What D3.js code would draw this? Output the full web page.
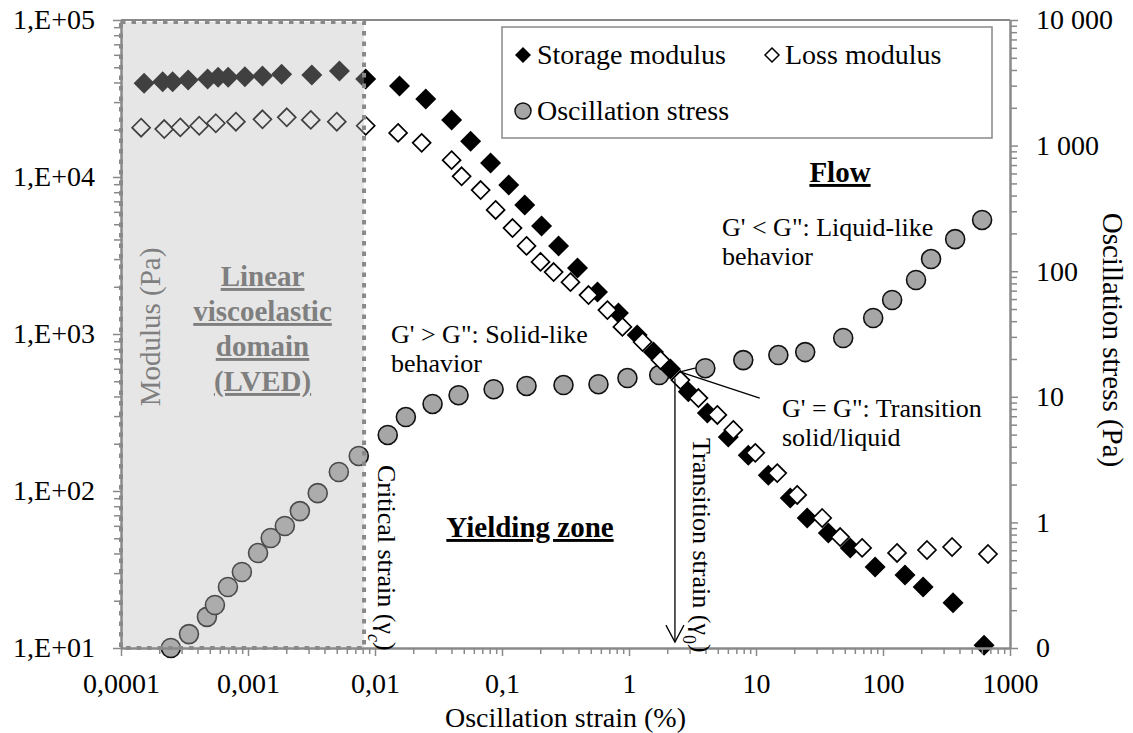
<!DOCTYPE html>
<html>
<head>
<meta charset="utf-8">
<script src="https://cdn.jsdelivr.net/npm/d3@7"></script>
<style>
  body { margin: 0; background: #fff; }
  text { font-family: "Liberation Serif", "Times New Roman", serif; }
</style>
</head>
<body>
<svg width="1133" height="733"></svg>
<script>
// strain (%) / modulus (Pa)
var storageStrain = [1.52e-4, 2.13e-4, 2.55e-4, 3.38e-4, 4.81e-4, 5.82e-4, 6.98e-4, 9.45e-4, 1.30e-3, 1.84e-3,
  3.18e-3, 5.25e-3, 8.45e-3, 0.0156, 0.0251, 0.0401, 0.0566, 0.0813, 0.113, 0.151, 0.205, 0.279, 0.393,
  0.565, 0.826, 1.16, 1.56, 2.12, 2.93, 4.14, 6.05, 8.69, 12.5, 18.6, 25.3, 37.1, 55.2, 86.7, 149, 207, 356, 625];
var storageModulus = [39500, 40500, 40500, 41500, 42100, 43200, 43200, 43500, 44000, 45100,
  44700, 47300, 42100, 38000, 31400, 23100, 16900, 12300, 8890, 6640, 4880, 3640, 2630,
  1850, 1360, 986, 767, 598, 428, 314, 221, 169, 126, 90.2, 67.3, 54.0, 43.4, 32.8, 29.2, 24.5, 19.4, 10.4];

var lossStrain = [1.44e-4, 2.19e-4, 2.93e-4, 4.13e-4, 5.58e-4, 8.03e-4, 1.30e-3, 2.02e-3, 3.12e-3, 5.00e-3,
  8.45e-3, 0.0152, 0.0233, 0.0401, 0.0481, 0.0679, 0.0891, 0.121, 0.156, 0.201, 0.255, 0.346, 0.480,
  0.676, 0.887, 1.28, 1.77, 2.54, 3.52, 4.96, 6.63, 9.87, 14.7, 21.1, 33.2, 46.0, 68.5, 129, 222, 350, 671];
var lossModulus = [20600, 20200, 20700, 21200, 22000, 22500, 23300, 24000, 23100, 22500,
  21200, 19100, 16500, 12800, 10100, 8260, 6170, 4730, 3640, 2880, 2480, 2140, 1770,
  1420, 1110, 889, 682, 509, 391, 305, 245, 175, 130, 94.4, 67.3, 50.9, 43.4, 40.3, 42.1, 44.0, 39.7];

var stressStrain = [2.47e-4, 3.43e-4, 4.75e-4, 5.49e-4, 6.95e-4, 8.95e-4, 1.20e-3, 1.51e-3, 1.95e-3, 2.56e-3,
  3.54e-3, 5.19e-3, 7.45e-3, 0.0126, 0.0175, 0.0284, 0.0455, 0.0859, 0.156, 0.305, 0.575, 0.972,
  1.73, 3.99, 7.94, 15.0, 24.4, 48.6, 83.7, 118, 182, 239, 370, 603];
var stressValues = [0.1, 0.129, 0.177, 0.220, 0.306, 0.403, 0.570, 0.751, 0.936, 1.23,
  1.71, 2.52, 3.38, 4.97, 6.90, 8.77, 10.3, 11.5, 12.2, 12.4, 12.6, 14.1,
  14.9, 16.9, 19.6, 21.5, 22.7, 29.4, 42.4, 59.0, 85.1, 125, 180, 256];

var xTicks = [0.0001, 0.001, 0.01, 0.1, 1, 10, 100, 1000];
var xTickLabels = ['0,0001', '0,001', '0,01', '0,1', '1', '10', '100', '1000'];
var leftTicks = [10, 100, 1000, 10000, 100000];
var leftTickLabels = ['1,E+01', '1,E+02', '1,E+03', '1,E+04', '1,E+05'];
var rightTicks = [0.1, 1, 10, 100, 1000, 10000];
var rightTickLabels = ['0', '1', '10', '100', '1 000', '10 000'];

var lvedLimit = 0.0082;       // critical strain
var transitionStrain = 2.3;   // G' = G''

var svg = d3.select('svg');
var plot = {l: 121, t: 20, r: 1010, b: 648};
var gray = '#898989';

var xScale = d3.scaleLog().domain([1e-4, 1e3]).range([plot.l, plot.r]);
var yLeft = d3.scaleLog().domain([10, 1e5]).range([plot.b, plot.t]);
var yRight = d3.scaleLog().domain([0.1, 1e4]).range([plot.b, plot.t]);

function minorTicks(majors) {
  var out = [];
  for (var i = 0; i < majors.length - 1; i++) {
    for (var k = 2; k < 10; k++) out.push(majors[i] * k);
  }
  return out;
}

function diamond(r) {
  return 'M0,' + (-r) + 'L' + r + ',0L0,' + r + 'L' + (-r) + ',0Z';
}

// top frame line
svg.append('line')
  .attr('x1', plot.l).attr('x2', plot.r)
  .attr('y1', plot.t).attr('y2', plot.t)
  .attr('stroke', gray).attr('stroke-width', 2);

// markers
var stress = stressStrain.map(function(s, i) { return {x: s, y: stressValues[i]}; });
var storage = storageStrain.map(function(s, i) { return {x: s, y: storageModulus[i]}; });
var loss = lossStrain.map(function(s, i) { return {x: s, y: lossModulus[i]}; });

svg.append('g').selectAll('circle')
  .data(stress).enter().append('circle')
  .attr('cx', function(d) { return xScale(d.x); })
  .attr('cy', function(d) { return yRight(d.y); })
  .attr('r', 9.5)
  .attr('fill', '#a6a6a6')
  .attr('stroke', '#111')
  .attr('stroke-width', 1.6);

svg.append('g').selectAll('path')
  .data(storage).enter().append('path')
  .attr('d', diamond(10.5))
  .attr('transform', function(d) { return 'translate(' + [xScale(d.x), yLeft(d.y)] + ')'; })
  .attr('fill', '#000');

svg.append('g').selectAll('path')
  .data(loss).enter().append('path')
  .attr('d', diamond(9))
  .attr('transform', function(d) { return 'translate(' + [xScale(d.x), yLeft(d.y)] + ')'; })
  .attr('fill', '#fff')
  .attr('stroke', '#000')
  .attr('stroke-width', 1.7);

// linear viscoelastic domain shading
var lvedX = xScale(lvedLimit);
svg.append('rect')
  .attr('x', plot.l).attr('y', plot.t + 2)
  .attr('width', lvedX - plot.l).attr('height', plot.b - plot.t - 2)
  .attr('fill', '#b8b8b8')
  .attr('fill-opacity', 0.35);

svg.append('rect')
  .attr('x', plot.l).attr('y', plot.t + 2)
  .attr('width', lvedX - plot.l).attr('height', plot.b - plot.t - 2)
  .attr('fill', 'none')
  .attr('stroke', gray)
  .attr('stroke-width', 4)
  .attr('stroke-dasharray', '4.5,6');

// axes
function styleAxis(g) {
  g.select('.domain').attr('stroke', gray).attr('stroke-width', 2);
  g.selectAll('.tick line').attr('stroke', gray).attr('stroke-width', 1.5);
  g.selectAll('text').attr('fill', '#000').style('font-size', '28px')
    .style('font-family', '"Liberation Serif", "Times New Roman", serif');
}

svg.append('g')
  .attr('transform', 'translate(0,' + plot.b + ')')
  .call(d3.axisBottom(xScale).tickValues(minorTicks(xTicks)).tickSize(6).tickFormat('').tickSizeOuter(0))
  .call(styleAxis);
svg.append('g')
  .attr('transform', 'translate(0,' + plot.b + ')')
  .call(d3.axisBottom(xScale).tickValues(xTicks).tickSize(8).tickPadding(17).tickSizeOuter(0)
    .tickFormat(function(d, i) { return xTickLabels[i]; }))
  .call(styleAxis);

svg.append('g')
  .attr('transform', 'translate(' + plot.l + ',0)')
  .call(d3.axisLeft(yLeft).tickValues(minorTicks(leftTicks)).tickSize(7).tickFormat('').tickSizeOuter(0))
  .call(styleAxis);
svg.append('g')
  .attr('transform', 'translate(' + plot.l + ',0)')
  .call(d3.axisLeft(yLeft).tickValues(leftTicks).tickSize(8).tickPadding(18).tickSizeOuter(0)
    .tickFormat(function(d, i) { return leftTickLabels[i]; }))
  .call(styleAxis);

svg.append('g')
  .attr('transform', 'translate(' + plot.r + ',0)')
  .call(d3.axisRight(yRight).tickValues(minorTicks(rightTicks)).tickSize(7).tickFormat('').tickSizeOuter(0))
  .call(styleAxis);
svg.append('g')
  .attr('transform', 'translate(' + plot.r + ',0)')
  .call(d3.axisRight(yRight).tickValues(rightTicks).tickSize(8).tickPadding(18).tickSizeOuter(0)
    .tickFormat(function(d, i) { return rightTickLabels[i]; }))
  .call(styleAxis);

// axis titles
svg.append('text')
  .attr('x', (plot.l + plot.r) / 2).attr('y', 727)
  .attr('text-anchor', 'middle')
  .style('font-size', '28px')
  .text('Oscillation strain (%)');

svg.append('text')
  .attr('transform', 'translate(160,' + 327 + ') rotate(-90)')
  .attr('text-anchor', 'middle')
  .attr('fill', '#7f7f7f')
  .style('font-size', '29px')
  .text('Modulus (Pa)');

svg.append('text')
  .attr('transform', 'translate(1103,340) rotate(90)')
  .attr('text-anchor', 'middle')
  .style('font-size', '29px')
  .text('Oscillation stress (Pa)');

// LVED label
var lvedLines = ['Linear', 'viscoelastic', 'domain', '(LVED)'];
svg.append('g').selectAll('text')
  .data(lvedLines).enter().append('text')
  .attr('x', (plot.l + lvedX) / 2 + 20)
  .attr('y', function(d, i) { return 286 + i * 35; })
  .attr('text-anchor', 'middle')
  .attr('fill', '#7f7f7f')
  .style('font-size', '29px')
  .style('font-weight', 'bold')
  .style('text-decoration', 'underline')
  .text(function(d) { return d; });

// zone labels
svg.append('text')
  .attr('x', 840).attr('y', 182)
  .attr('text-anchor', 'middle')
  .style('font-size', '29px').style('font-weight', 'bold').style('text-decoration', 'underline')
  .text('Flow');

svg.append('text')
  .attr('x', 530).attr('y', 537)
  .attr('text-anchor', 'middle')
  .style('font-size', '29px').style('font-weight', 'bold').style('text-decoration', 'underline')
  .text('Yielding zone');

function twoLines(x, y, a, b) {
  var t = svg.append('text').attr('x', x).attr('y', y).style('font-size', '26px');
  t.append('tspan').attr('x', x).text(a);
  t.append('tspan').attr('x', x).attr('dy', 29).text(b);
}
twoLines(722, 236, 'G\' < G": Liquid-like', 'behavior');
twoLines(391, 343, 'G\' > G": Solid-like', 'behavior');
twoLines(782, 417, 'G\' = G": Transition', 'solid/liquid');

// rotated strain labels
var crit = svg.append('text')
  .attr('transform', 'translate(378,465) rotate(90)')
  .style('font-size', '26px');
crit.append('tspan').text('Critical strain (\u03b3');
crit.append('tspan').attr('baseline-shift', 'sub').style('font-size', '18px').style('font-style', 'italic').text('c');
crit.append('tspan').text(')');

var trans = svg.append('text')
  .attr('transform', 'translate(693,438) rotate(90)')
  .style('font-size', '26px');
trans.append('tspan').text('Transition strain (\u03b3');
trans.append('tspan').attr('baseline-shift', 'sub').style('font-size', '18px').text('0');
trans.append('tspan').text(')');

// transition arrow and pointer lines
var ax = xScale(transitionStrain);
var arrowTop = yLeft(520), arrowBottom = yLeft(10.9);
svg.append('line')
  .attr('x1', ax).attr('x2', ax).attr('y1', arrowTop).attr('y2', arrowBottom)
  .attr('stroke', '#000').attr('stroke-width', 1.3);
svg.append('path')
  .attr('d', 'M' + (ax - 9) + ',' + (arrowBottom - 17) + 'L' + ax + ',' + arrowBottom + 'L' + (ax + 9) + ',' + (arrowBottom - 17))
  .attr('fill', 'none').attr('stroke', '#000').attr('stroke-width', 1.3);

var cross = {x: 2.52, y: 573};
svg.append('line')
  .attr('x1', xScale(cross.x)).attr('y1', yLeft(cross.y))
  .attr('x2', xScale(10.7)).attr('y2', yLeft(391))
  .attr('stroke', '#000').attr('stroke-width', 1.3);
svg.append('line')
  .attr('x1', xScale(cross.x)).attr('y1', yLeft(cross.y))
  .attr('x2', xScale(3.31)).attr('y2', yLeft(607))
  .attr('stroke', '#000').attr('stroke-width', 1.3);

// legend
var legend = svg.append('g');
legend.append('rect')
  .attr('x', 502).attr('y', 27).attr('width', 490).attr('height', 111)
  .attr('fill', '#fff').attr('stroke', gray).attr('stroke-width', 1.5);
legend.append('path').attr('d', diamond(8)).attr('transform', 'translate(523,55)').attr('fill', '#000');
legend.append('text').attr('x', 537).attr('y', 64).style('font-size', '28px').text('Storage modulus');
legend.append('path').attr('d', diamond(7)).attr('transform', 'translate(772,55)')
  .attr('fill', '#fff').attr('stroke', '#000').attr('stroke-width', 1.5);
legend.append('text').attr('x', 785).attr('y', 64).style('font-size', '28px').text('Loss modulus');
legend.append('circle').attr('cx', 523).attr('cy', 111).attr('r', 8)
  .attr('fill', '#a6a6a6').attr('stroke', '#111').attr('stroke-width', 1.5);
legend.append('text').attr('x', 537).attr('y', 120).style('font-size', '28px').text('Oscillation stress');
</script>
</body>
</html>
